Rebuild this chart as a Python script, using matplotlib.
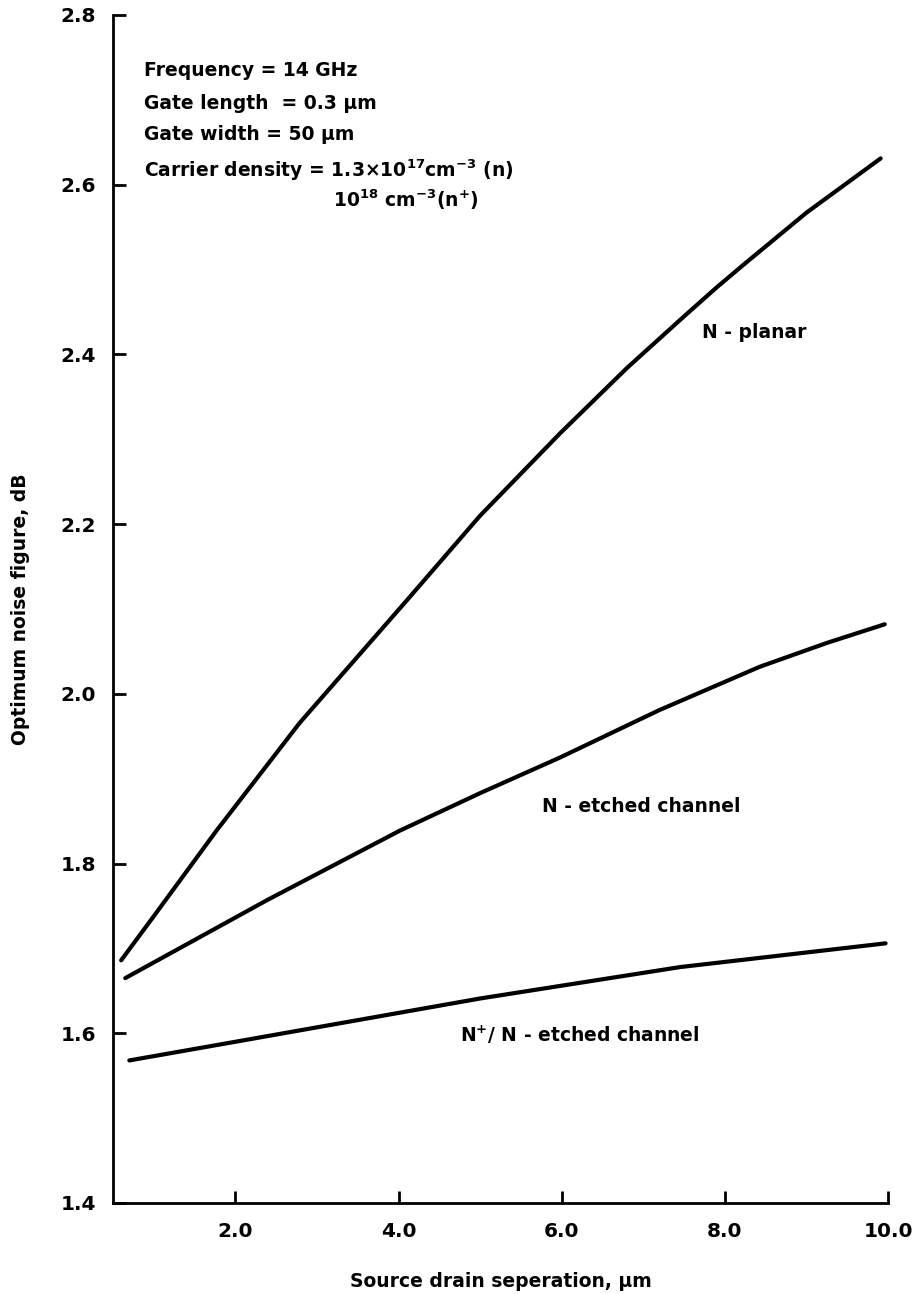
import matplotlib
matplotlib.use("Agg")
import matplotlib.pyplot as plt

plt.rcParams['font.family'] = ['DejaVu Sans']
plt.rcParams['mathtext.default'] = 'regular'

# Data
x_planar = [0.6, 1.0, 1.77, 2.79, 4.10, 5.0, 5.98, 6.80, 7.49, 7.90, 8.22, 9.00, 9.91]
y_planar = [1.686, 1.738, 1.839, 1.966, 2.110, 2.210, 2.307, 2.384, 2.444, 2.479, 2.505, 2.567, 2.631]

x_etched = [0.65, 2.39, 4.02, 5.0, 5.98, 7.20, 8.43, 9.25, 9.96]
y_etched = [1.665, 1.757, 1.839, 1.883, 1.925, 1.981, 2.032, 2.060, 2.082]

x_nplus = [0.7, 2.0, 4.0, 5.0, 7.45, 9.97]
y_nplus = [1.568, 1.590, 1.624, 1.641, 1.678, 1.706]

x_ticks = [2.0, 4.0, 6.0, 8.0, 10.0]
x_ticklabels = ['2.0', '4.0', '6.0', '8.0', '10.0']
y_ticks = [1.4, 1.6, 1.8, 2.0, 2.2, 2.4, 2.6, 2.8]
y_ticklabels = ['1.4', '1.6', '1.8', '2.0', '2.2', '2.4', '2.6', '2.8']

W, H = 914, 1294
fig = plt.figure(figsize=(W / 100, H / 100), dpi=100)
ax = fig.add_axes([113 / W, 1 - 1203 / H, (888 - 113) / W, (1203 - 15) / H])

lw = 3.0
ax.plot(x_planar, y_planar, color='black', lw=lw, solid_capstyle='round', solid_joinstyle='round')
ax.plot(x_etched, y_etched, color='black', lw=lw, solid_capstyle='round', solid_joinstyle='round')
ax.plot(x_nplus, y_nplus, color='black', lw=lw, solid_capstyle='round', solid_joinstyle='round')

ax.set_xlim(0.5, 10.0)
ax.set_ylim(1.4, 2.8)
for s in ['top', 'right']:
    ax.spines[s].set_visible(False)
for s in ['left', 'bottom']:
    ax.spines[s].set_linewidth(2.0)

ax.set_xticks(x_ticks)
ax.set_xticklabels(x_ticklabels)
ax.set_yticks(y_ticks)
ax.set_yticklabels(y_ticklabels)
ax.tick_params(axis='both', direction='in', length=9, width=2.0, labelsize=14.5, pad=14)
ax.tick_params(axis='y', pad=12)
for lab in ax.get_xticklabels() + ax.get_yticklabels():
    lab.set_fontweight('bold')

ax.set_xlabel('Source drain seperation, µm', fontsize=13.5, fontweight='bold', labelpad=22)
ax.set_ylabel('Optimum noise figure, dB', fontsize=13.5, fontweight='bold', labelpad=22)

tk = dict(fontsize=13.5, fontweight='bold', va='center', ha='left')
ax.text(0.88, 2.735, 'Frequency = 14 GHz', **tk)
ax.text(0.88, 2.696, 'Gate length  = 0.3 µm', **tk)
ax.text(0.88, 2.659, 'Gate width = 50 µm', **tk)
ax.text(0.88, 2.617, r'Carrier density = 1.3×10$^{17}$cm$^{-3}$ (n)', **tk)
ax.text(3.20, 2.582, r'10$^{18}$ cm$^{-3}$(n$^{+}$)', **tk)

ax.text(7.72, 2.426, 'N - planar', **tk)
ax.text(5.76, 1.867, 'N - etched channel', **tk)
ax.text(4.75, 1.598, r'N$^{+}$/ N - etched channel', **tk)

fig.savefig('out.png', dpi=100)
